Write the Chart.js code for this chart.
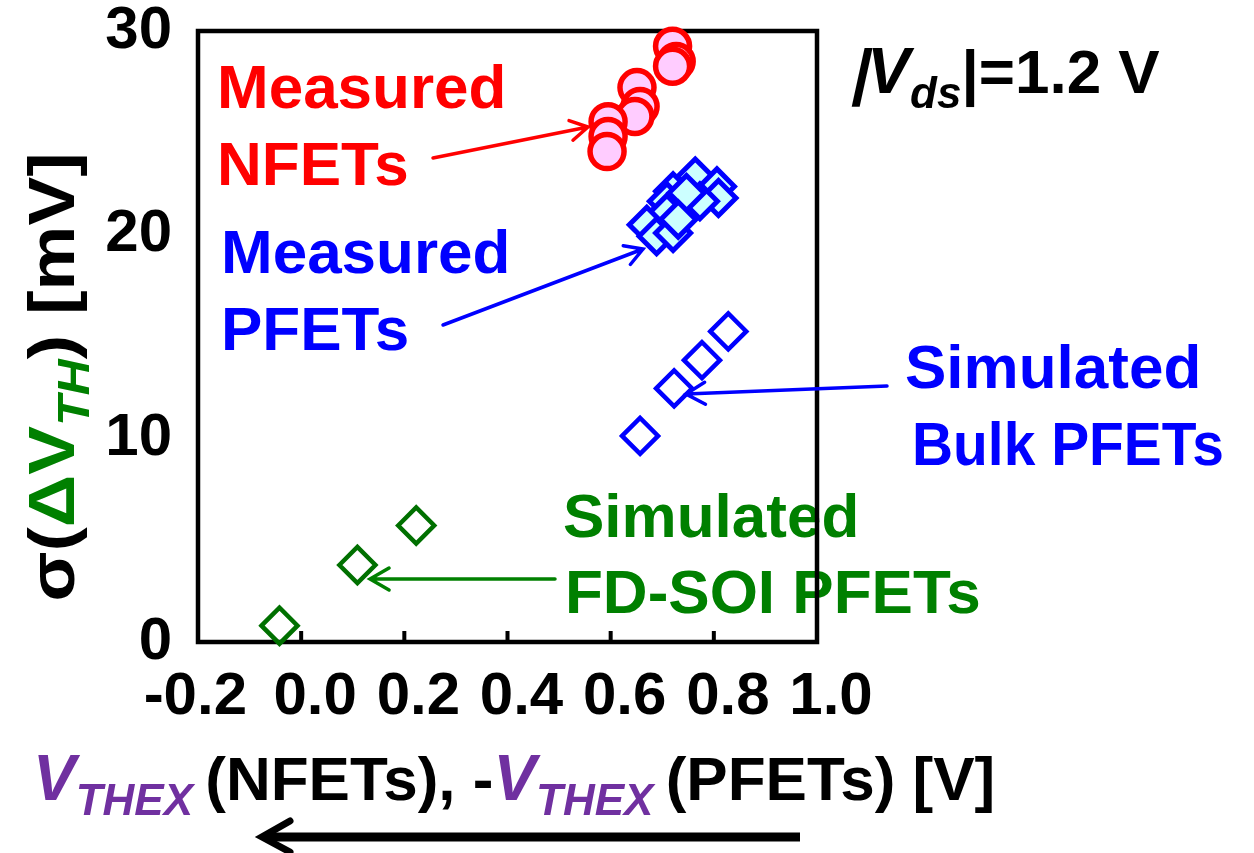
<!DOCTYPE html>
<html>
<head>
<meta charset="utf-8">
<script src="https://cdn.jsdelivr.net/npm/chart.js@4.4.1/dist/chart.umd.min.js"></script>
<style>
  html, body { margin: 0; padding: 0; background: #fff; }
  #wrap { width: 1254px; height: 853px; }
</style>
</head>
<body>
<div id="wrap"><canvas id="chart" width="1254" height="853"></canvas></div>
<script>
// axis ticks
const xTicks = [-0.2, 0.0, 0.2, 0.4, 0.6, 0.8, 1.0];
const yTicks = [0, 10, 20, 30];

// data
const measuredNfetX = [0.720, 0.727, 0.720, 0.651, 0.657, 0.647, 0.595, 0.595, 0.593];
const measuredNfetY = [29.25, 28.5, 28.27, 27.22, 26.29, 25.8, 25.55, 24.82, 24.08];

const measuredPfetX = [0.764, 0.806, 0.809, 0.721, 0.709, 0.709, 0.670, 0.689, 0.721, 0.773, 0.747, 0.731];
const measuredPfetY = [22.86, 22.37, 21.8, 22.13, 21.64, 21.07, 20.49, 19.92, 20.08, 21.64, 22.05, 20.74];

const simBulkX = [0.657, 0.723, 0.777, 0.828];
const simBulkY = [10.12, 12.45, 13.84, 15.25];

const simSoiX = [-0.042, 0.109, 0.223];
const simSoiY = [0.80, 3.78, 5.72];

const FONT = '"Liberation Sans", Arial, sans-serif';
const RED = '#ff0000', BLUE = '#0000ff', GREEN = '#008000', PURPLE = '#7030a0';

function pts(xs, ys) { return xs.map((x, i) => ({ x: x, y: ys[i] })); }

function drawRuns(ctx, x, y, parts) {
  let cx = x;
  parts.forEach(p => {
    ctx.font = p.font;
    ctx.fillStyle = p.color;
    if (p.skew) {
      ctx.save();
      ctx.translate(cx, y + (p.dy || 0));
      ctx.transform(1, 0, -p.skew, 1, 0, 0);
      ctx.fillText(p.t, 0, 0);
      ctx.restore();
    } else {
      ctx.fillText(p.t, cx, y + (p.dy || 0));
    }
    cx += ctx.measureText(p.t).width;
  });
  return cx;
}
function runsWidth(ctx, parts) {
  let w = 0;
  parts.forEach(p => { ctx.font = p.font; w += ctx.measureText(p.t).width; });
  return w;
}

function arrow(ctx, x1, y1, x2, y2, color, lw, head) {
  const a = Math.atan2(y2 - y1, x2 - x1);
  const sp = Math.PI / 6;
  ctx.save();
  ctx.strokeStyle = color;
  ctx.lineWidth = lw;
  ctx.lineCap = 'round';
  ctx.beginPath();
  ctx.moveTo(x1, y1);
  ctx.lineTo(x2, y2);
  ctx.moveTo(x2 - head * Math.cos(a - sp), y2 - head * Math.sin(a - sp));
  ctx.lineTo(x2, y2);
  ctx.lineTo(x2 - head * Math.cos(a + sp), y2 - head * Math.sin(a + sp));
  ctx.stroke();
  ctx.restore();
}

const B62 = 'bold 62px ' + FONT;
const B44I = 'italic bold 44px ' + FONT;
const B64I = 'italic bold 64px ' + FONT;

const decor = {
  id: 'decor',
  beforeDatasetsDraw(chart) {
    const ctx = chart.ctx;
    const a = chart.chartArea;
    ctx.save();
    ctx.textBaseline = 'alphabetic';
    ctx.textAlign = 'left';
    ctx.font = B62;
    ctx.fillStyle = RED;
    ctx.fillText('Measured', 217, 108);
    ctx.fillText('NFETs', 217, 185);
    ctx.fillStyle = BLUE;
    ctx.fillText('Measured', 221, 273);
    ctx.fillText('PFETs', 221, 350);
    ctx.fillText('Simulated', 905, 388);
    ctx.fillText('Bulk PFETs', 912, 465, 312);
    ctx.fillStyle = GREEN;
    ctx.fillText('Simulated', 563, 537);
    ctx.fillText('FD-SOI PFETs', 565, 613);

    // |Vds| = 1.2 V
    drawRuns(ctx, 850, 93, [
      { t: '|', font: B62, color: '#000', skew: 0.22 },
      { t: 'V', font: B64I, color: '#000' },
      { t: 'ds', font: B44I, color: '#000', dy: 15 },
      { t: '|=1.2 V', font: B62, color: '#000' }
    ]);

    // x-axis title
    drawRuns(ctx, 33, 800, [
      { t: 'V', font: B64I, color: PURPLE },
      { t: 'THEX ', font: B44I, color: PURPLE, dy: 15 },
      { t: '(NFETs), -', font: B62, color: '#000' },
      { t: 'V', font: B64I, color: PURPLE },
      { t: 'THEX ', font: B44I, color: PURPLE, dy: 15 },
      { t: '(PFETs) [V]', font: B62, color: '#000' }
    ]);

    // y-axis title (stretched along its length like the original)
    const yParts = [
      { t: '\u03c3(', font: 'bold 64px ' + FONT, color: '#000' },
      { t: '\u0394V', font: 'bold 64px ' + FONT, color: GREEN },
      { t: 'TH', font: B44I, color: GREEN, dy: 15 },
      { t: ') [mV]', font: 'bold 64px ' + FONT, color: '#000' }
    ];
    ctx.save();
    ctx.translate(74, 377);
    ctx.rotate(-Math.PI / 2);
    ctx.scale(1.14, 1);
    drawRuns(ctx, -runsWidth(ctx, yParts) / 2, 0, yParts);
    ctx.restore();

    // frame
    ctx.strokeStyle = '#000';
    ctx.lineWidth = 4.5;
    ctx.strokeRect(a.left, a.top, a.right - a.left, a.bottom - a.top);
    // inward tick marks on x axis
    const xs = chart.scales.x;
    ctx.lineWidth = 4;
    ctx.beginPath();
    xTicks.slice(1, -1).forEach(v => {
      const px = xs.getPixelForValue(v);
      ctx.moveTo(px, a.bottom);
      ctx.lineTo(px, a.bottom - 11);
    });
    ctx.stroke();

    // direction arrow below the axis title
    ctx.strokeStyle = '#000';
    ctx.lineWidth = 9;
    ctx.beginPath();
    ctx.moveTo(800, 837);
    ctx.lineTo(264, 837);
    ctx.stroke();
    ctx.lineWidth = 7;
    ctx.lineCap = 'round';
    ctx.beginPath();
    ctx.moveTo(290, 821);
    ctx.lineTo(262, 837);
    ctx.lineTo(290, 852);
    ctx.stroke();
    ctx.restore();
  },
  afterDatasetsDraw(chart) {
    const ctx = chart.ctx;
    arrow(ctx, 433, 158, 588, 127, RED, 3.5, 20);
    arrow(ctx, 443, 325, 643, 249, BLUE, 3.5, 20);
    arrow(ctx, 887, 386, 686, 394, BLUE, 3.5, 22);
    arrow(ctx, 555, 579, 370, 579, GREEN, 3.5, 22);
  }
};

const tickFont = { family: FONT, size: 60, weight: 'bold' };

new Chart(document.getElementById('chart'), {
  type: 'scatter',
  data: {
    datasets: [
      {
        label: 'Simulated FD-SOI PFETs',
        data: pts(simSoiX, simSoiY),
        pointStyle: 'rectRot',
        pointRadius: 18,
        borderColor: '#007000',
        backgroundColor: 'rgba(255,255,255,0)',
        borderWidth: 4.5,
        clip: false
      },
      {
        label: 'Simulated Bulk PFETs',
        data: pts(simBulkX, simBulkY),
        pointStyle: 'rectRot',
        pointRadius: 18,
        borderColor: BLUE,
        backgroundColor: 'rgba(255,255,255,0)',
        borderWidth: 4.5,
        clip: false
      },
      {
        label: 'Measured PFETs',
        data: pts(measuredPfetX, measuredPfetY),
        pointStyle: 'rectRot',
        pointRadius: 17.5,
        borderColor: BLUE,
        backgroundColor: '#ccffff',
        borderWidth: 5,
        clip: false
      },
      {
        label: 'Measured NFETs',
        data: pts(measuredNfetX, measuredNfetY),
        pointStyle: 'circle',
        pointRadius: 17,
        borderColor: RED,
        backgroundColor: '#ffccff',
        borderWidth: 5.5,
        clip: false
      }
    ]
  },
  options: {
    responsive: false,
    animation: false,
    layout: { padding: { left: 0, top: 31, right: 437, bottom: 0 } },
    plugins: { legend: { display: false }, tooltip: { enabled: false } },
    scales: {
      x: {
        type: 'linear',
        min: -0.2,
        max: 1.0,
        afterBuildTicks: s => { s.ticks = xTicks.map(v => ({ value: v })); },
        afterFit: s => { s.height = 211; s.paddingLeft = 0; s.paddingRight = 0; },
        ticks: {
          font: tickFont,
          color: '#000',
          padding: 19,
          labelOffset: 14,
          maxRotation: 0,
          autoSkip: false,
          // the first label sits left of the others in the original
          callback: v => (v < 0 ? Number(v).toFixed(1) + '  ' : Number(v).toFixed(1))
        },
        grid: { display: false, drawTicks: false },
        border: { display: false }
      },
      y: {
        type: 'linear',
        min: 0,
        max: 30,
        afterBuildTicks: s => { s.ticks = yTicks.map(v => ({ value: v })); },
        afterFit: s => { s.width = 198; s.paddingTop = 0; s.paddingBottom = 0; },
        ticks: {
          font: tickFont,
          color: '#000',
          padding: 26,
          callback: v => String(v)
        },
        grid: { display: false, drawTicks: false },
        border: { display: false }
      }
    }
  },
  plugins: [decor]
});
</script>
</body>
</html>
